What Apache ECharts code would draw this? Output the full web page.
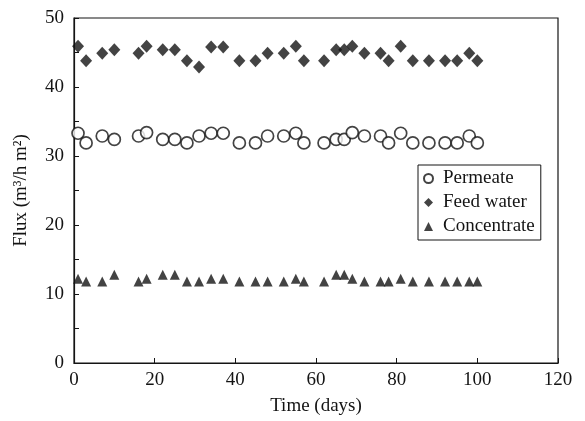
<!DOCTYPE html>
<html><head><meta charset="utf-8">
<script src="https://cdn.jsdelivr.net/npm/echarts@6/dist/echarts.min.js"></script>
<style>html,body{margin:0;padding:0;background:#fff}#c{width:585px;height:421px}</style>
</head><body><div id="c"></div>
<script>
const days = [1,3,7,10,16,18,22,25,28,31,34,37,41,45,48,52,55,57,62,65,67,69,72,76,78,81,84,88,92,95,98,100];
const permeate = [33.3,31.9,32.9,32.4,32.9,33.4,32.4,32.4,31.9,32.9,33.3,33.3,31.9,31.9,32.9,32.9,33.3,31.9,31.9,32.4,32.4,33.4,32.9,32.9,31.9,33.3,31.9,31.9,31.9,31.9,32.9,31.9];
const feedWater = [45.9,43.8,44.9,45.4,44.9,45.9,45.4,45.4,43.8,42.9,45.8,45.8,43.8,43.8,44.9,44.9,45.9,43.8,43.8,45.4,45.4,45.9,44.9,44.9,43.8,45.9,43.8,43.8,43.8,43.8,44.9,43.8];
const concentrate = [12.2,11.8,11.8,12.8,11.8,12.2,12.8,12.8,11.8,11.8,12.2,12.2,11.8,11.8,11.8,11.8,12.2,11.8,11.8,12.8,12.8,12.2,11.8,11.8,11.8,12.2,11.8,11.8,11.8,11.8,11.8,11.8];
const xTicks = [0,20,40,60,80,100,120];
const yTicks = [0,10,20,30,40,50];

const pair = (ys) => days.map((d,i)=>[d, ys[i]]);
const font = '"Liberation Serif","Times New Roman",serif';
const ink = '#141414';
const chart = echarts.init(document.getElementById('c'));
chart.setOption({
  animation:false,
  textStyle:{fontFamily:font,color:ink},
  grid:{left:74,right:27,top:18,bottom:58,show:true,borderColor:ink,borderWidth:1.2},
  legend:{
    orient:'vertical', left:418, top:165, padding:[4,6,4,5],
    borderColor:ink, borderWidth:1, itemGap:5, itemWidth:9, itemHeight:9,
    textStyle:{fontFamily:font,fontSize:19,color:ink,padding:[0,0,0,5]},
    data:['Permeate','Feed water','Concentrate']
  },
  xAxis:{
    type:'value', min:xTicks[0], max:xTicks[xTicks.length-1], interval:20,
    name:'Time (days)', nameLocation:'middle', nameGap:34,
    nameTextStyle:{fontFamily:font,fontSize:19,color:ink},
    axisLine:{lineStyle:{color:ink,width:1.2}},
    axisTick:{inside:true,length:5,lineStyle:{color:ink}},
    axisLabel:{fontFamily:font,fontSize:19,color:ink,margin:8},
    splitLine:{show:false}
  },
  yAxis:{
    type:'value', min:yTicks[0], max:yTicks[yTicks.length-1], interval:10,
    name:'Flux (m³/h m²)', nameLocation:'middle', nameGap:43, nameRotate:90,
    nameTextStyle:{fontFamily:font,fontSize:19,color:ink},
    axisLine:{lineStyle:{color:ink,width:1.2}},
    axisTick:{inside:true,length:5,lineStyle:{color:ink}},
    minorTick:{show:true,splitNumber:2,length:5,lineStyle:{color:ink}},
    axisLabel:{fontFamily:font,fontSize:19,color:ink,margin:10},
    splitLine:{show:false}
  },
  series:[
    {name:'Permeate',type:'scatter',symbol:'circle',symbolSize:12,
     itemStyle:{color:'#fff',borderColor:ink,borderWidth:1.7},data:pair(permeate)},
    {name:'Feed water',type:'scatter',symbol:'diamond',symbolSize:[12,13],
     itemStyle:{color:ink},data:pair(feedWater)},
    {name:'Concentrate',type:'scatter',symbol:'triangle',symbolSize:[10,10],
     itemStyle:{color:ink},data:pair(concentrate)}
  ]
});
</script></body></html>
